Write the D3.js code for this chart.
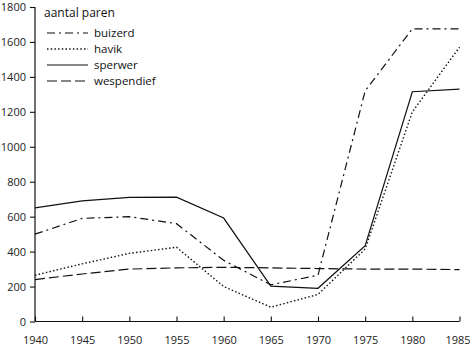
<!DOCTYPE html>
<html><head><meta charset="utf-8">
<script src="https://cdn.jsdelivr.net/npm/d3@7"></script>
<style>body{margin:0;background:#fff}svg{display:block}text{font-family:"Open Sans",sans-serif;fill:#111}</style>
</head><body><svg id="c" width="470" height="347"></svg>
<script>
const years = [1940,1945,1950,1955,1960,1965,1970,1975,1980,1985];
const buizerd = [500,590,600,560,350,210,265,1320,1675,1675];
const havik = [265,330,390,425,200,82,155,415,1200,1570];
const sperwer = [650,690,710,712,592,202,190,434,1315,1330];
const wespendief = [240,272,300,307,310,307,303,300,300,297];
const seriesNames = ["buizerd","havik","sperwer","wespendief"];
const dashes = ["8,4,2,4","1.5,2.2",null,"10,4"];
const yTicks = [0,200,400,600,800,1000,1200,1400,1600,1800];
const yLabel = "aantal paren";

const svg = d3.select("#c");
const x = d3.scaleLinear().domain([1940,1985]).range([35,459.5]);
const y = d3.scaleLinear().domain([0,1800]).range([321.5,7]);

// axes
const ya = svg.append("g").attr("transform","translate(35,0)")
  .call(d3.axisLeft(y).tickValues(yTicks).tickSize(5).tickPadding(4).tickFormat(d3.format("d")));
ya.select(".domain").attr("stroke","#111").attr("stroke-width",1.2).attr("d","M0,"+y(0)+"V"+y(1800));
ya.selectAll(".tick line").attr("stroke","#111").attr("stroke-width",1.1);
ya.selectAll("text").attr("font-size",11).style("fill","#222");

const xa = svg.append("g").attr("transform","translate(0,"+y(0)+")")
  .call(d3.axisBottom(x).tickValues(years).tickSize(-5).tickPadding(15).tickFormat(d3.format("d")));
xa.select(".domain").attr("stroke","#111").attr("stroke-width",1.2).attr("d","M"+x(1940)+",0H"+x(1985));
xa.selectAll(".tick line").attr("stroke","#111").attr("stroke-width",1.1);
xa.selectAll("text").attr("font-size",11).style("fill","#222");
xa.selectAll(".tick").filter(d=>d===1985).select("text").attr("dx",-2);

svg.append("text").attr("x",44).attr("y",17).attr("font-size",12).text(yLabel);

const data = [buizerd,havik,sperwer,wespendief];
const line = d3.line().x((d,i)=>x(years[i])).y(d=>y(d));
data.forEach((s,k)=>{
  const p = svg.append("path").attr("d",line(s)).attr("fill","none")
    .attr("stroke","#111").attr("stroke-width",k===1?1.4:1.2);
  if(dashes[k]) p.attr("stroke-dasharray",dashes[k]);
});

// legend
const ly = [33,49,65,81];
seriesNames.forEach((n,k)=>{
  const l = svg.append("line").attr("x1",47).attr("x2",88).attr("y1",ly[k]).attr("y2",ly[k])
    .attr("stroke","#111").attr("stroke-width",k===1?1.4:1.2);
  if(dashes[k]) l.attr("stroke-dasharray",dashes[k]);
  svg.append("text").attr("x",94).attr("y",ly[k]+4).attr("font-size",11.5).text(n);
});
</script></body></html>
